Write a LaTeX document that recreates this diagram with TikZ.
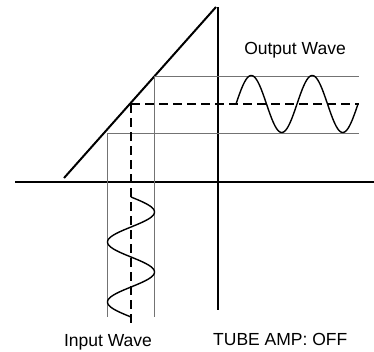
\documentclass[tikz,border=0pt]{standalone}
\usepackage{fontspec}
\setmainfont{Liberation Sans}
\usetikzlibrary{positioning,calc}
\tikzset{
 axis/.style={line width=1.5pt},
 curve/.style={line width=2pt},
 guide/.style={line width=0.8pt,draw=black!55},
 level/.style={line width=1.8pt,dash pattern=on 9pt off 5pt},
 wave/.style={line width=1.4pt,smooth},
 label/.style={font=\fontsize{17.5}{20}\selectfont,inner sep=0pt,anchor=base}
}
\begin{document}
\begin{tikzpicture}[x=1pt,y=-1pt]
\useasboundingbox (0,0) rectangle (374,351);
% axes
\coordinate (xl) at (15,182);
\coordinate (xr) at (374,182);
\coordinate (yt) at (218,7);
\coordinate (yb) at (218,310);
\draw[axis] (xl) -- (xr);
\draw[axis] (yt) -- (yb);
% transfer curve
\coordinate (tlow) at (64,178);
\coordinate (thigh) at (216,7);
\draw[curve] (tlow) -- (thigh);
% working point and swing limits
\coordinate (op) at (131,104);
\coordinate (hi) at (154,76);
\coordinate (lo) at (107,133);
\draw[guide] (hi) -- (359,76);
\draw[guide] (lo) -- (359,133);
\draw[guide] (hi) -- (154,317);
\draw[guide] (lo) -- (107,317);
\draw[level] (op) -- (359,104);
\draw[level] (op) -- (131,327);
% waves
\draw[wave] plot[domain=0:120,samples=120] ({131+23.5*sin(6*\x)},{197+\x});
\draw[wave] plot[domain=0:122,samples=120] ({236+\x},{104-28.5*sin(5.9016*\x)});
% labels
\node[label] (outlbl) at (295,54) {Output Wave};
\node[label] (inlbl) at (108,346) {Input Wave};
\node[label,anchor=base west] (state) at (213,345) {TUBE AMP: OFF};
\end{tikzpicture}
\end{document}
